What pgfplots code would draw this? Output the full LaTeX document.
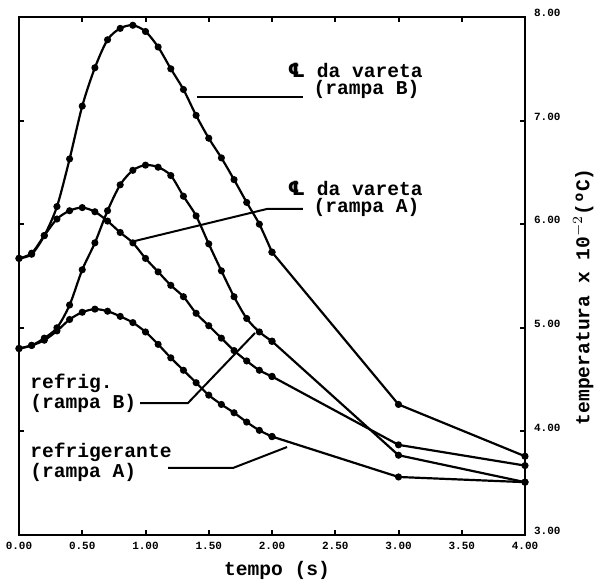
\documentclass[border=0pt]{standalone}
\usepackage{pgfplots}
\pgfplotsset{compat=1.18}
\usepackage{fontspec}
\setmainfont{Liberation Mono}
\newfontfamily\symfont{DejaVu Sans}
\newcommand{\CL}{{\symfont\bfseries ℄}}

\pgfplotstableread{
x y
0.0 5.67
0.1 5.71
0.2 5.89
0.3 6.17
0.4 6.63
0.5 7.14
0.6 7.51
0.7 7.78
0.8 7.89
0.9 7.92
1.0 7.86
1.1 7.71
1.2 7.50
1.3 7.30
1.4 7.05
1.5 6.83
1.6 6.64
1.7 6.43
1.8 6.21
1.9 6.00
2.0 5.73
}\varB
\pgfplotstableread{
x y
2.0 5.73
3.0 4.26
4.0 3.76
}\varBs
\pgfplotstableread{
x y
0.0 4.80
0.1 4.83
0.2 4.90
0.3 5.00
0.4 5.22
0.5 5.56
0.6 5.82
0.7 6.13
0.8 6.38
0.9 6.52
1.0 6.57
1.1 6.55
1.2 6.47
1.3 6.27
1.4 6.08
1.5 5.81
1.6 5.55
1.7 5.30
1.8 5.09
1.9 4.96
2.0 4.87
}\varA
\pgfplotstableread{
x y
2.0 4.87
3.0 3.77
4.0 3.51
}\varAs
\pgfplotstableread{
x y
0.0 5.67
0.1 5.72
0.2 5.89
0.3 6.05
0.4 6.13
0.5 6.16
0.6 6.12
0.7 6.03
0.8 5.92
0.9 5.82
1.0 5.67
1.1 5.54
1.2 5.41
1.3 5.30
1.4 5.14
1.5 5.02
1.6 4.90
1.7 4.78
1.8 4.68
1.9 4.59
2.0 4.53
}\refB
\pgfplotstableread{
x y
2.0 4.53
3.0 3.87
4.0 3.67
}\refBs
\pgfplotstableread{
x y
0.0 4.80
0.1 4.83
0.2 4.88
0.3 4.97
0.4 5.08
0.5 5.15
0.6 5.18
0.7 5.16
0.8 5.11
0.9 5.05
1.0 4.96
1.1 4.84
1.2 4.71
1.3 4.59
1.4 4.47
1.5 4.35
1.6 4.26
1.7 4.18
1.8 4.09
1.9 4.01
2.0 3.95
}\refA
\pgfplotstableread{
x y
2.0 3.95
3.0 3.56
4.0 3.51
}\refAs

\begin{document}
\begin{tikzpicture}
\begin{axis}[
  scale only axis, width=253pt, height=259pt,
  xmin=0, xmax=4, ymin=3, ymax=8,
  xtick={0,0.5,...,4}, ytick={3,4,...,8},
  tick align=inside, major tick length=2.5pt,
  xticklabel pos=bottom, yticklabel pos=right,
  xtick pos=both, ytick pos=both,
  axis line style={line width=1.2pt},
  every tick/.style={black, line width=1pt},
  tick label style={font=\bfseries\fontsize{5.5}{6}\selectfont},
  yticklabel style={yshift=2pt, xshift=1pt},
  xlabel={tempo (s)},
  xlabel style={at={(axis description cs:0.51,0)}, anchor=center, yshift=-17.5pt, font=\bfseries\fontsize{9.8}{11}\selectfont},
  ylabel={temperatura x 10$^{-2}$(ºC)},
  ylabel style={at={(axis description cs:1.115,0.46)}, anchor=center, font=\bfseries\fontsize{9.8}{11}\selectfont},
  curve/.style={black, line width=1.1pt, mark=*, mark size=1.2pt, mark options={solid, fill=black}},
  /pgf/number format/fixed, /pgf/number format/fixed zerofill, /pgf/number format/precision=2,
  /pgf/number format/assume math mode=true,
]
\addplot[curve, smooth, tension=0.5] table[x=x,y=y]{\varB};
\addplot[curve] table[x=x,y=y]{\varBs};
\addplot[curve, smooth, tension=0.5] table[x=x,y=y]{\varA};
\addplot[curve] table[x=x,y=y]{\varAs};
\addplot[curve, smooth, tension=0.5] table[x=x,y=y]{\refB};
\addplot[curve] table[x=x,y=y]{\refBs};
\addplot[curve, smooth, tension=0.5] table[x=x,y=y]{\refA};
\addplot[curve] table[x=x,y=y]{\refAs};

% pointer lines
\draw[line width=1pt] (axis cs:1.407,7.228) -- (axis cs:2.245,7.228);
\draw[line width=1pt] (axis cs:0.917,5.838) -- (axis cs:1.960,6.147) -- (axis cs:2.245,6.147);
\draw[line width=1pt] (axis cs:0.957,4.274) -- (axis cs:1.336,4.274) -- (axis cs:1.866,4.950);
\draw[line width=1pt] (axis cs:1.178,3.647) -- (axis cs:1.692,3.647) -- (axis cs:2.119,3.849);

\begin{scope}[every node/.style={font=\bfseries\fontsize{9.8}{8.8}\selectfont, inner sep=0pt, anchor=west, align=left}]
\node at (axis cs:2.12,7.385) {\CL{} da vareta\\\hspace*{13pt}(rampa B)};
\node at (axis cs:2.12,6.243) {\CL{} da vareta\\\hspace*{13pt}(rampa A)};
\node at (axis cs:0.087,4.37) {refrig.\\(rampa B)};
\node at (axis cs:0.087,3.70) {refrigerante\\(rampa A)};
\end{scope}
\end{axis}
\pgfresetboundingbox
\path (current axis.south west) ++(-9.5pt,-24.5pt) (current axis.north east) ++(36pt,8.5pt);
\end{tikzpicture}
\end{document}
